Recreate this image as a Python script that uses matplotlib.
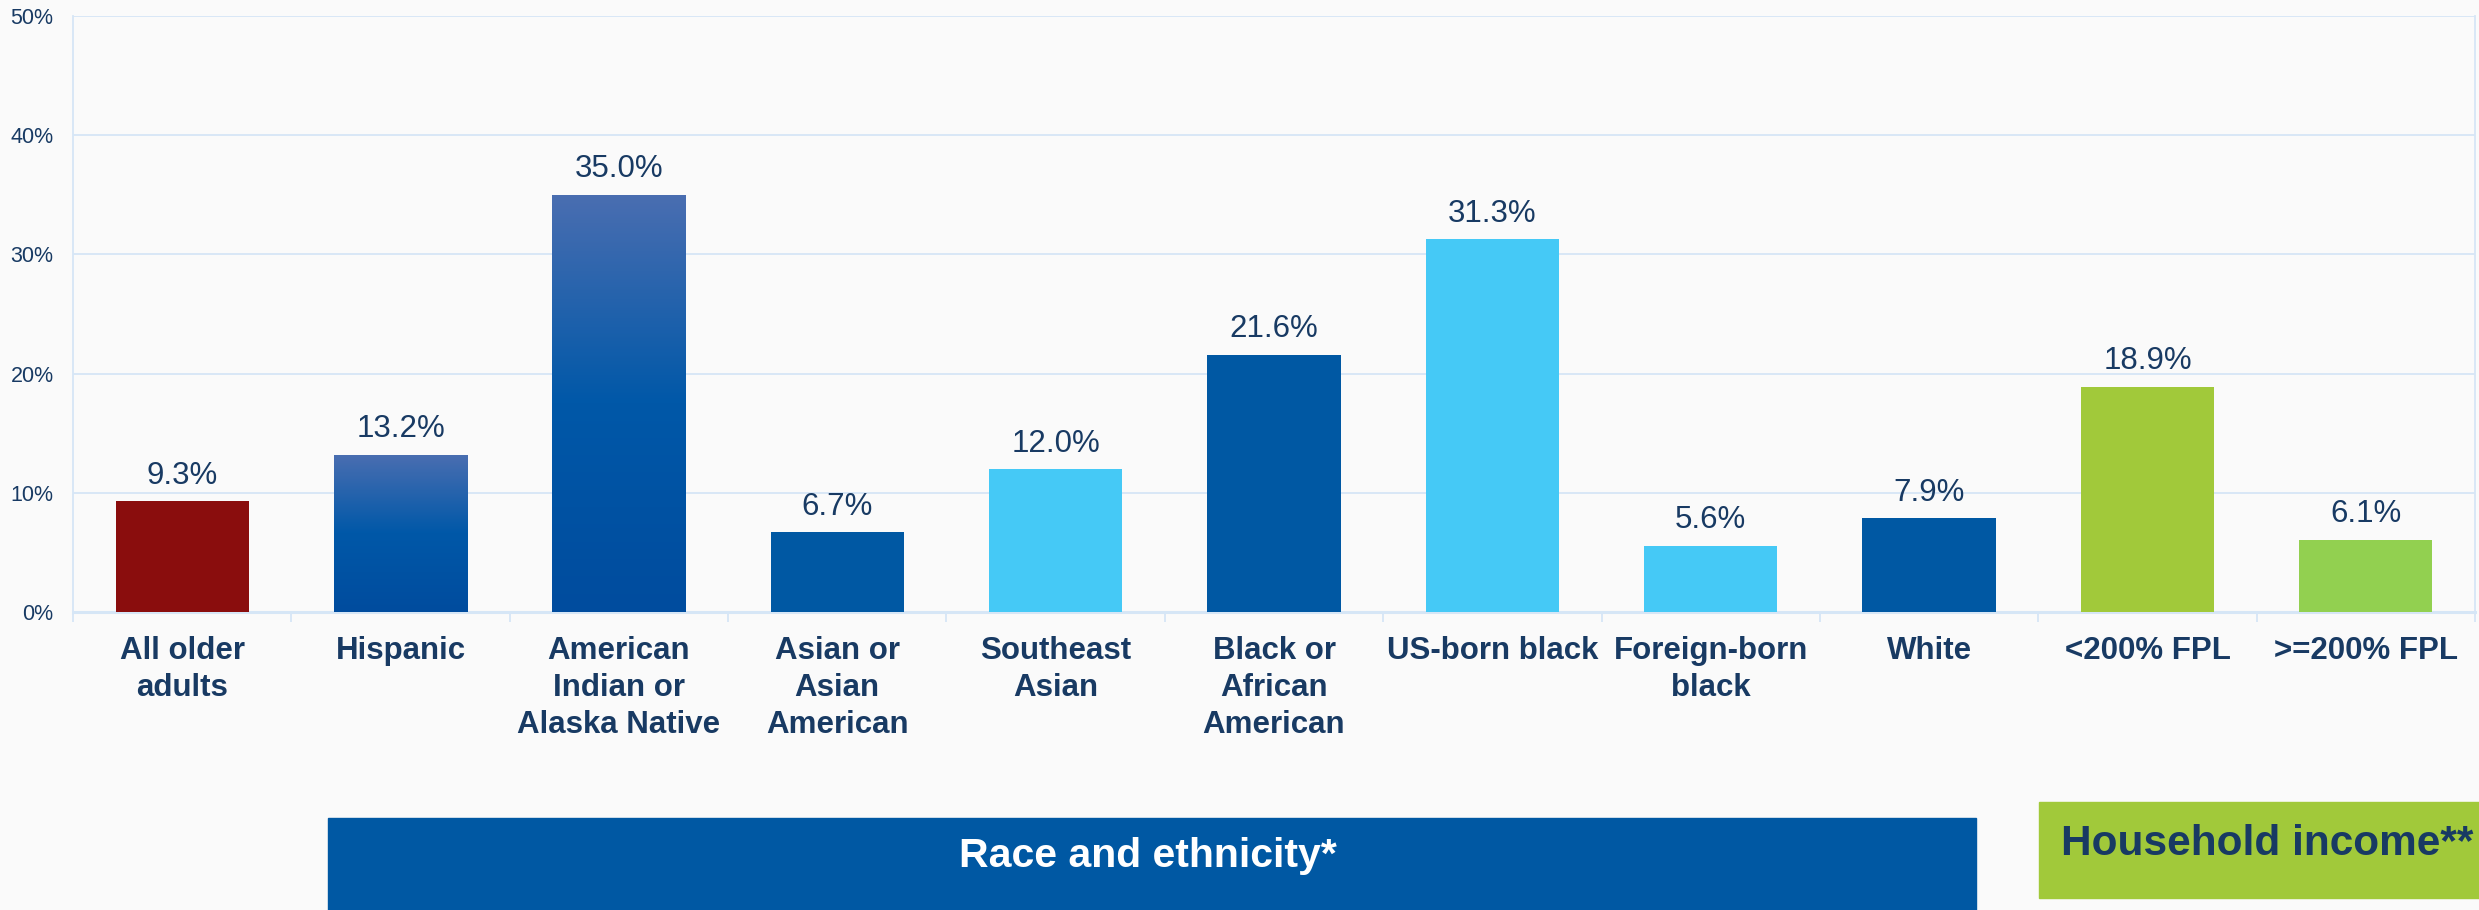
import numpy as np
import matplotlib
matplotlib.use("Agg")
import matplotlib.pyplot as plt
from matplotlib.colors import LinearSegmentedColormap
from matplotlib.patches import Rectangle

plt.rcParams["font.family"] = ["Liberation Sans", "DejaVu Sans"]

# ---- data ----
categories = ["All older\nadults", "Hispanic", "American\nIndian or\nAlaska Native",
              "Asian or\nAsian\nAmerican", "Southeast\nAsian", "Black or\nAfrican\nAmerican",
              "US-born black", "Foreign-born\nblack", "White", "<200% FPL", ">=200% FPL"]
values = [9.3, 13.2, 35.0, 6.7, 12.0, 21.6, 31.3, 5.6, 7.9, 18.9, 6.1]
bar_colors = ["#8a0d0d", "#0058a8", "#0058a8", "#0058a3", "#45c9f6", "#0058a3",
              "#45c9f6", "#45c9f6", "#0058a3", "#a1c93a", "#92d050"]
gradient_bars = [1, 2]          # Hispanic, American Indian drawn with a vertical gradient
yticks = [0, 10, 20, 30, 40, 50]

BG = "#fafafa"
TXT = "#183a63"
GRID = "#d6e6f6"
W, H = 2479, 910

fig = plt.figure(figsize=(W / 100, H / 100), dpi=100, facecolor=BG)
ax = fig.add_axes([73 / W, 1 - 612.4 / H, (2475 - 73) / W, (612.4 - 15.8) / H])
ax.set_facecolor(BG)

x = np.arange(len(values))
bars = ax.bar(x, values, width=0.61, color=bar_colors, zorder=3)

# gradient fill for the two highlighted bars
grad = LinearSegmentedColormap.from_list("g", [(0, "#4a6eb1"), (0.5, "#0058a8"), (1, "#004c9e")])
for i in gradient_bars:
    b = bars[i]
    img = ax.imshow(np.linspace(0, 1, 256).reshape(-1, 1), cmap=grad, aspect="auto",
                    origin="upper", zorder=4,
                    extent=(b.get_x(), b.get_x() + b.get_width(), 0, b.get_height()))
    img.set_clip_path(b)

for xi, v in zip(x, values):
    ax.annotate(f"{v:.1f}%", (xi, v), xytext=(0, 7.5), textcoords="offset points",
                ha="center", va="bottom", fontsize=22.5, color=TXT, zorder=5)

ax.set_xlim(-0.5, len(values) - 0.5)
ax.set_ylim(0, 50)
ax.set_yticks(yticks)
ax.set_yticklabels([f"{t}%" for t in yticks])
ax.tick_params(axis="y", length=0, pad=14, labelsize=15.5, labelcolor=TXT)
ax.grid(axis="y", color=GRID, lw=1.3, zorder=0)

ax.set_xticks(x)
ax.set_xticklabels(categories, fontsize=22.5, fontweight="bold", color=TXT, linespacing=1.3)
ax.set_xticks(np.arange(-0.5, len(values)), minor=True)
ax.tick_params(axis="x", which="major", length=0, pad=17)
ax.tick_params(axis="x", which="minor", length=7.5, width=1.3, color=GRID)

ax.spines["top"].set_visible(False)
for s in ["left", "right"]:
    ax.spines[s].set_color(GRID)
    ax.spines[s].set_linewidth(1.3)
ax.spines["bottom"].set_color(GRID)
ax.spines["bottom"].set_linewidth(2.2)

# group boxes under the axis
fig.patches.append(Rectangle((328 / W, 0), (1976 - 328) / W, (H - 818) / H,
                             transform=fig.transFigure, color="#0058a3", zorder=1))
fig.text(1148 / W, 1 - 856 / H, "Race and ethnicity*", ha="center", va="center",
         fontsize=29.5, fontweight="bold", color="white")
fig.patches.append(Rectangle((2039 / W, 1 - 898 / H), (W - 2039) / W, (898 - 802) / H,
                             transform=fig.transFigure, color="#a1c93a", zorder=1))
fig.text(2061 / W, 1 - 855 / H, "Household income**", ha="left", va="baseline",
         fontsize=30.5, fontweight="bold", color=TXT)

fig.savefig("out.png", dpi=100, facecolor=BG)
